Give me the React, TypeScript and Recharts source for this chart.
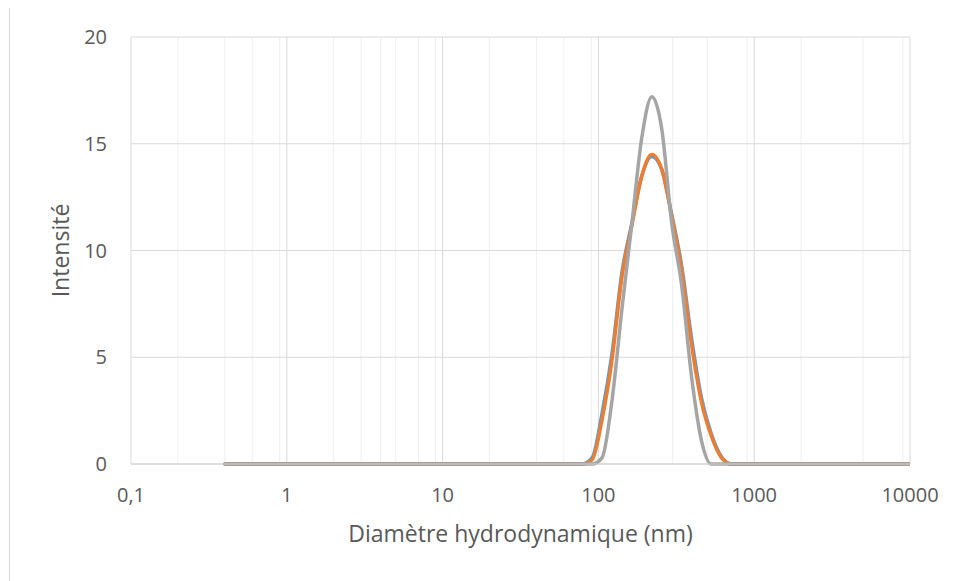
import React from 'react';
import { LineChart, Line, XAxis, YAxis, CartesianGrid } from 'recharts';

// Malvern size classes (nm)
const sizes = [
  0.4, 0.4632, 0.5365, 0.6213, 0.7195, 0.8332, 0.9649, 1.117, 1.294, 1.499,
  1.736, 2.01, 2.328, 2.696, 3.122, 3.615, 4.187, 4.849, 5.615, 6.503,
  7.531, 8.721, 10.1, 11.7, 13.54, 15.69, 18.17, 21.04, 24.36, 28.21,
  32.67, 37.84, 43.82, 50.75, 58.77, 68.06, 78.82, 91.28, 105.7, 122.4,
  141.8, 164.2, 190.1, 220.2, 255, 295.3, 342, 396.1, 458.7, 531.2,
  615.1, 712.4, 825, 955.4, 1106, 1281, 1484, 1718, 1990, 2305,
  2669, 3091, 3580, 4145, 4801, 5560, 6439, 7456, 8635, 10000,
];

const mesure1 = [
  0, 0, 0, 0, 0, 0, 0, 0, 0, 0,
  0, 0, 0, 0, 0, 0, 0, 0, 0, 0,
  0, 0, 0, 0, 0, 0, 0, 0, 0, 0,
  0, 0, 0, 0, 0, 0, 0, 0.3, 2.4, 5.2,
  9.0, 11.3, 13.5, 14.4, 13.8, 11.7, 9.3, 5.9, 3.1, 1.4,
  0.35, 0, 0, 0, 0, 0, 0, 0, 0, 0,
  0, 0, 0, 0, 0, 0, 0, 0, 0, 0,
];

const mesure2 = [
  0, 0, 0, 0, 0, 0, 0, 0, 0, 0,
  0, 0, 0, 0, 0, 0, 0, 0, 0, 0,
  0, 0, 0, 0, 0, 0, 0, 0, 0, 0,
  0, 0, 0, 0, 0, 0, 0, 0.2, 2.1, 4.9,
  8.8, 11.2, 13.5, 14.5, 13.8, 11.6, 9.1, 5.6, 2.9, 1.3,
  0.3, 0, 0, 0, 0, 0, 0, 0, 0, 0,
  0, 0, 0, 0, 0, 0, 0, 0, 0, 0,
];

const mesure3 = [
  0, 0, 0, 0, 0, 0, 0, 0, 0, 0,
  0, 0, 0, 0, 0, 0, 0, 0, 0, 0,
  0, 0, 0, 0, 0, 0, 0, 0, 0, 0,
  0, 0, 0, 0, 0, 0, 0, 0, 0.3, 3.0,
  7.3, 11.3, 15.3, 17.2, 15.7, 11.3, 8.4, 4.1, 1.1, 0,
  0, 0, 0, 0, 0, 0, 0, 0, 0, 0,
  0, 0, 0, 0, 0, 0, 0, 0, 0, 0,
];

const xTicks = [0.1, 1, 10, 100, 1000, 10000];
const xMinor = [
  0.2, 0.3, 0.4, 0.5, 0.6, 0.7, 0.8, 0.9,
  2, 3, 4, 5, 6, 7, 8, 9,
  20, 30, 40, 50, 60, 70, 80, 90,
  200, 300, 400, 500, 600, 700, 800, 900,
  2000, 3000, 4000, 5000, 6000, 7000, 8000, 9000,
];
const yTicks = [0, 5, 10, 15, 20];

const data = sizes.map((d, i) => ({ d, m1: mesure1[i], m2: mesure2[i], m3: mesure3[i] }));

const FONT = '"Open Sans", sans-serif';
const TEXT = '#595959';

export default function App() {
  return (
    <div
      style={{
        marginLeft: 1,
        marginTop: -1,
        width: 949,
        height: 574,
        borderLeft: '1px solid #d9d9d9',
        borderTop: '1px solid #d9d9d9',
        fontFamily: FONT,
      }}
    >
      <LineChart width={940} height={570} data={data} margin={{ top: 29, right: 40, bottom: 0, left: 61 }}>
        <CartesianGrid horizontal={false} verticalValues={xMinor} stroke="#efefef" strokeWidth={1} />
        <CartesianGrid verticalValues={xTicks} stroke="#d9d9d9" strokeWidth={1} />
        <XAxis
          dataKey="d"
          type="number"
          scale="log"
          domain={[0.1, 10000]}
          ticks={xTicks}
          allowDataOverflow
          height={114}
          tickSize={0}
          tickMargin={24}
          tickLine={false}
          axisLine={{ stroke: '#d0d0d0' }}
          tick={{ fill: TEXT, fontSize: 20, fontFamily: FONT }}
          tickFormatter={(v: number) => String(v).replace('.', ',')}
          label={{
            content: (p: any) => {
              const vb = p.viewBox;
              return (
                <text x={vb.x + vb.width / 2} y={vb.y + 77.5} textAnchor="middle" fill={TEXT} fontSize={23} fontFamily={FONT}>
                  Diamètre hydrodynamique (nm)
                </text>
              );
            },
          }}
        />
        <YAxis
          type="number"
          domain={[0, 20]}
          ticks={yTicks}
          width={60}
          tickSize={0}
          tickMargin={24}
          tickLine={false}
          axisLine={false}
          tick={{ fill: TEXT, fontSize: 20, fontFamily: FONT }}
          label={{
            content: (p: any) => {
              const vb = p.viewBox;
              const cx = vb.x - 1.7;
              const cy = vb.y + vb.height / 2;
              return (
                <text x={cx} y={cy} transform={`rotate(-90 ${cx} ${cy})`} textAnchor="middle" fill={TEXT} fontSize={23} fontFamily={FONT}>
                  Intensité
                </text>
              );
            },
          }}
        />
        <Line type="monotone" dataKey="m1" stroke="#5B9BD5" strokeWidth={3.5} strokeLinecap="round" dot={false} isAnimationActive={false} />
        <Line type="monotone" dataKey="m2" stroke="#ED7D31" strokeWidth={3.5} strokeLinecap="round" dot={false} isAnimationActive={false} />
        <Line type="monotone" dataKey="m3" stroke="#A5A5A5" strokeWidth={3.5} strokeLinecap="round" dot={false} isAnimationActive={false} />
      </LineChart>
    </div>
  );
}
